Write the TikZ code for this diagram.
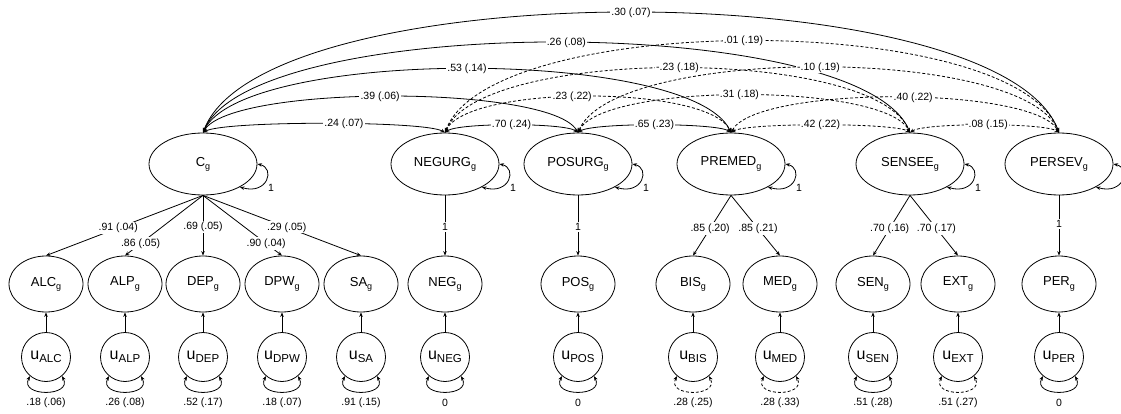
\documentclass[tikz,border=0pt]{standalone}
\usepackage{fontspec}
\setmainfont{Liberation Sans}
\usetikzlibrary{shapes.geometric,arrows.meta}
\newcommand{\gsub}[1]{\raisebox{-0.45ex}{\fontsize{9}{9}\selectfont #1}}
\newcommand{\ulab}[1]{{\fontsize{16}{18}\selectfont u}\raisebox{-0.5ex}{\fontsize{11.5}{12}\selectfont #1}}
\begin{document}
\begin{tikzpicture}[x=1pt,y=-1pt,
  lat/.style={ellipse,draw,line width=0.8pt,minimum width=108pt,minimum height=62pt,inner sep=0pt,font=\fontsize{13}{15}\selectfont},
  ind/.style={ellipse,draw,line width=0.8pt,minimum width=74pt,minimum height=56pt,inner sep=0pt,font=\fontsize{13}{15}\selectfont},
  res/.style={circle,draw,line width=0.8pt,minimum size=49pt,inner sep=0pt},
  lab/.style={fill=white,inner sep=1.2pt,font=\fontsize{10.5}{12}\selectfont},
  plab/.style={inner sep=1pt,font=\fontsize{10.5}{12}\selectfont},
  con/.style={line width=0.8pt,-{Stealth[length=4.5pt,width=3.5pt]}},
  cov/.style={line width=0.8pt,{Stealth[length=4.5pt,width=3.5pt]}-{Stealth[length=4.5pt,width=3.5pt]}},
  dsh/.style={dash pattern=on 3pt off 2pt},
]
\useasboundingbox (0,0) rectangle (1121,414);

% latent factors
\node[lat] (C)  at (203,164) {C\gsub{g}};
\node[lat] (NU) at (445,164) {NEGURG\gsub{g}};
\node[lat] (PU) at (578,164) {POSURG\gsub{g}};
\node[lat] (PM) at (731,164) {PREMED\gsub{g}};
\node[lat] (SS) at (910,164) {SENSEE\gsub{g}};
\node[lat] (PV) at (1059,164) {PERSEV\gsub{g}};

% indicators, residuals
\foreach \n/\x/\v/\ds in {ALC/46/.18 (.06)/solid, ALP/125/.26 (.08)/solid, DEP/203/.52 (.17)/solid,
  DPW/282/.18 (.07)/solid, SA/361/.91 (.15)/solid, NEG/445/0/solid, POS/578/0/solid,
  BIS/693/.28 (.25)/dsh, MED/780/.28 (.33)/dsh, SEN/873/.51 (.28)/solid, EXT/958/.51 (.27)/dsh,
  PER/1059/0/solid}{
  \node[ind] (\n) at (\x,284) {\n\gsub{g}};
  \node[res] (u\n) at (\x,357) {\ulab{\n}};
  \draw[con] (u\n) -- (\n);
  \draw[cov,\ds] (u\n.-130) .. controls +(-11,21) and +(11,21) .. (u\n.-50);
  \node[plab] (v\n) at (\x,403) {\v};
}

% self loops of latent factors
\foreach \n in {C,NU,PU,PM,SS,PV}{
  \draw[cov] (\n.-32) .. controls +(28,8) and +(18,4) .. (\n.east);
}
\foreach \n in {C,NU,PU,PM,SS}{
  \node[plab] (one\n) at ([shift={(68,24)}]\n.center) {1};
}

% loadings
\draw[con] (C.south) -- (ALC.north) node[lab,pos=0.54] (l1) {.91 (.04)};
\draw[con] (C.south) -- (ALP.north) node[lab,pos=0.8] (l2) {.86 (.05)};
\draw[con] (C.south) -- (DEP.north) node[lab,pos=0.52] (l3) {.69 (.05)};
\draw[con] (C.south) -- (DPW.north) node[lab,pos=0.8] (l4) {.90 (.04)};
\draw[con] (C.south) -- (SA.north) node[lab,pos=0.53] (l5) {.29 (.05)};
\draw[con] (NU) -- (NEG) node[lab,pos=0.52] (l6) {1};
\draw[con] (PU) -- (POS) node[lab,pos=0.52] (l7) {1};
\draw[con] (PM.south) -- (BIS.north) node[lab,pos=0.55] (l8) {.85 (.20)};
\draw[con] (PM.south) -- (MED.north) node[lab,pos=0.55] (l9) {.85 (.21)};
\draw[con] (SS.south) -- (SEN.north) node[lab,pos=0.55] (l10) {.70 (.16)};
\draw[con] (SS.south) -- (EXT.north) node[lab,pos=0.55] (l11) {.70 (.17)};
\draw[con] (PV) -- (PER) node[lab,pos=0.48] (l12) {1};

% covariances
\def\covlist{C/NU/20/12/.56/{.24 (.07)}/solid,
  C/PU/28/48/.48/{.39 (.06)}/solid,
  C/PM/40/85/.5/{.53 (.14)}/solid,
  C/SS/50/120/.51/{.26 (.08)}/solid,
  C/PV/60/160/.5/{.30 (.07)}/solid,
  NU/PU/13/10/.5/{.70 (.24)}/solid,
  NU/PM/22/48/.46/{.23 (.22)}/dsh,
  NU/SS/35/86/.5/{-.23 (.18)}/dsh,
  NU/PV/45/122/.49/{.01 (.19)}/dsh,
  PU/PM/14/10/.5/{.65 (.23)}/solid,
  PU/SS/25/50/.49/{.31 (.18)}/dsh,
  PU/PV/36/87/.5/{-.10 (.19)}/dsh,
  PM/SS/15/10/.5/{.42 (.22)}/dsh,
  PM/PV/25/47/.54/{.40 (.22)}/dsh,
  SS/PV/14/10/.51/{-.08 (.15)}/dsh}
\foreach \a/\b/\ax/\h/\p/\t/\st in \covlist{
  \draw[cov,\st] (\a.north) .. controls +(\ax,-\h) and +(-\ax,-\h) .. (\b.north);
}
\foreach \a/\b/\ax/\h/\p/\t/\st in \covlist{
  \path (\a.north) .. controls +(\ax,-\h) and +(-\ax,-\h) .. (\b.north) node[lab,pos=\p] (k\a\b) {\t};
}
\end{tikzpicture}
\end{document}
